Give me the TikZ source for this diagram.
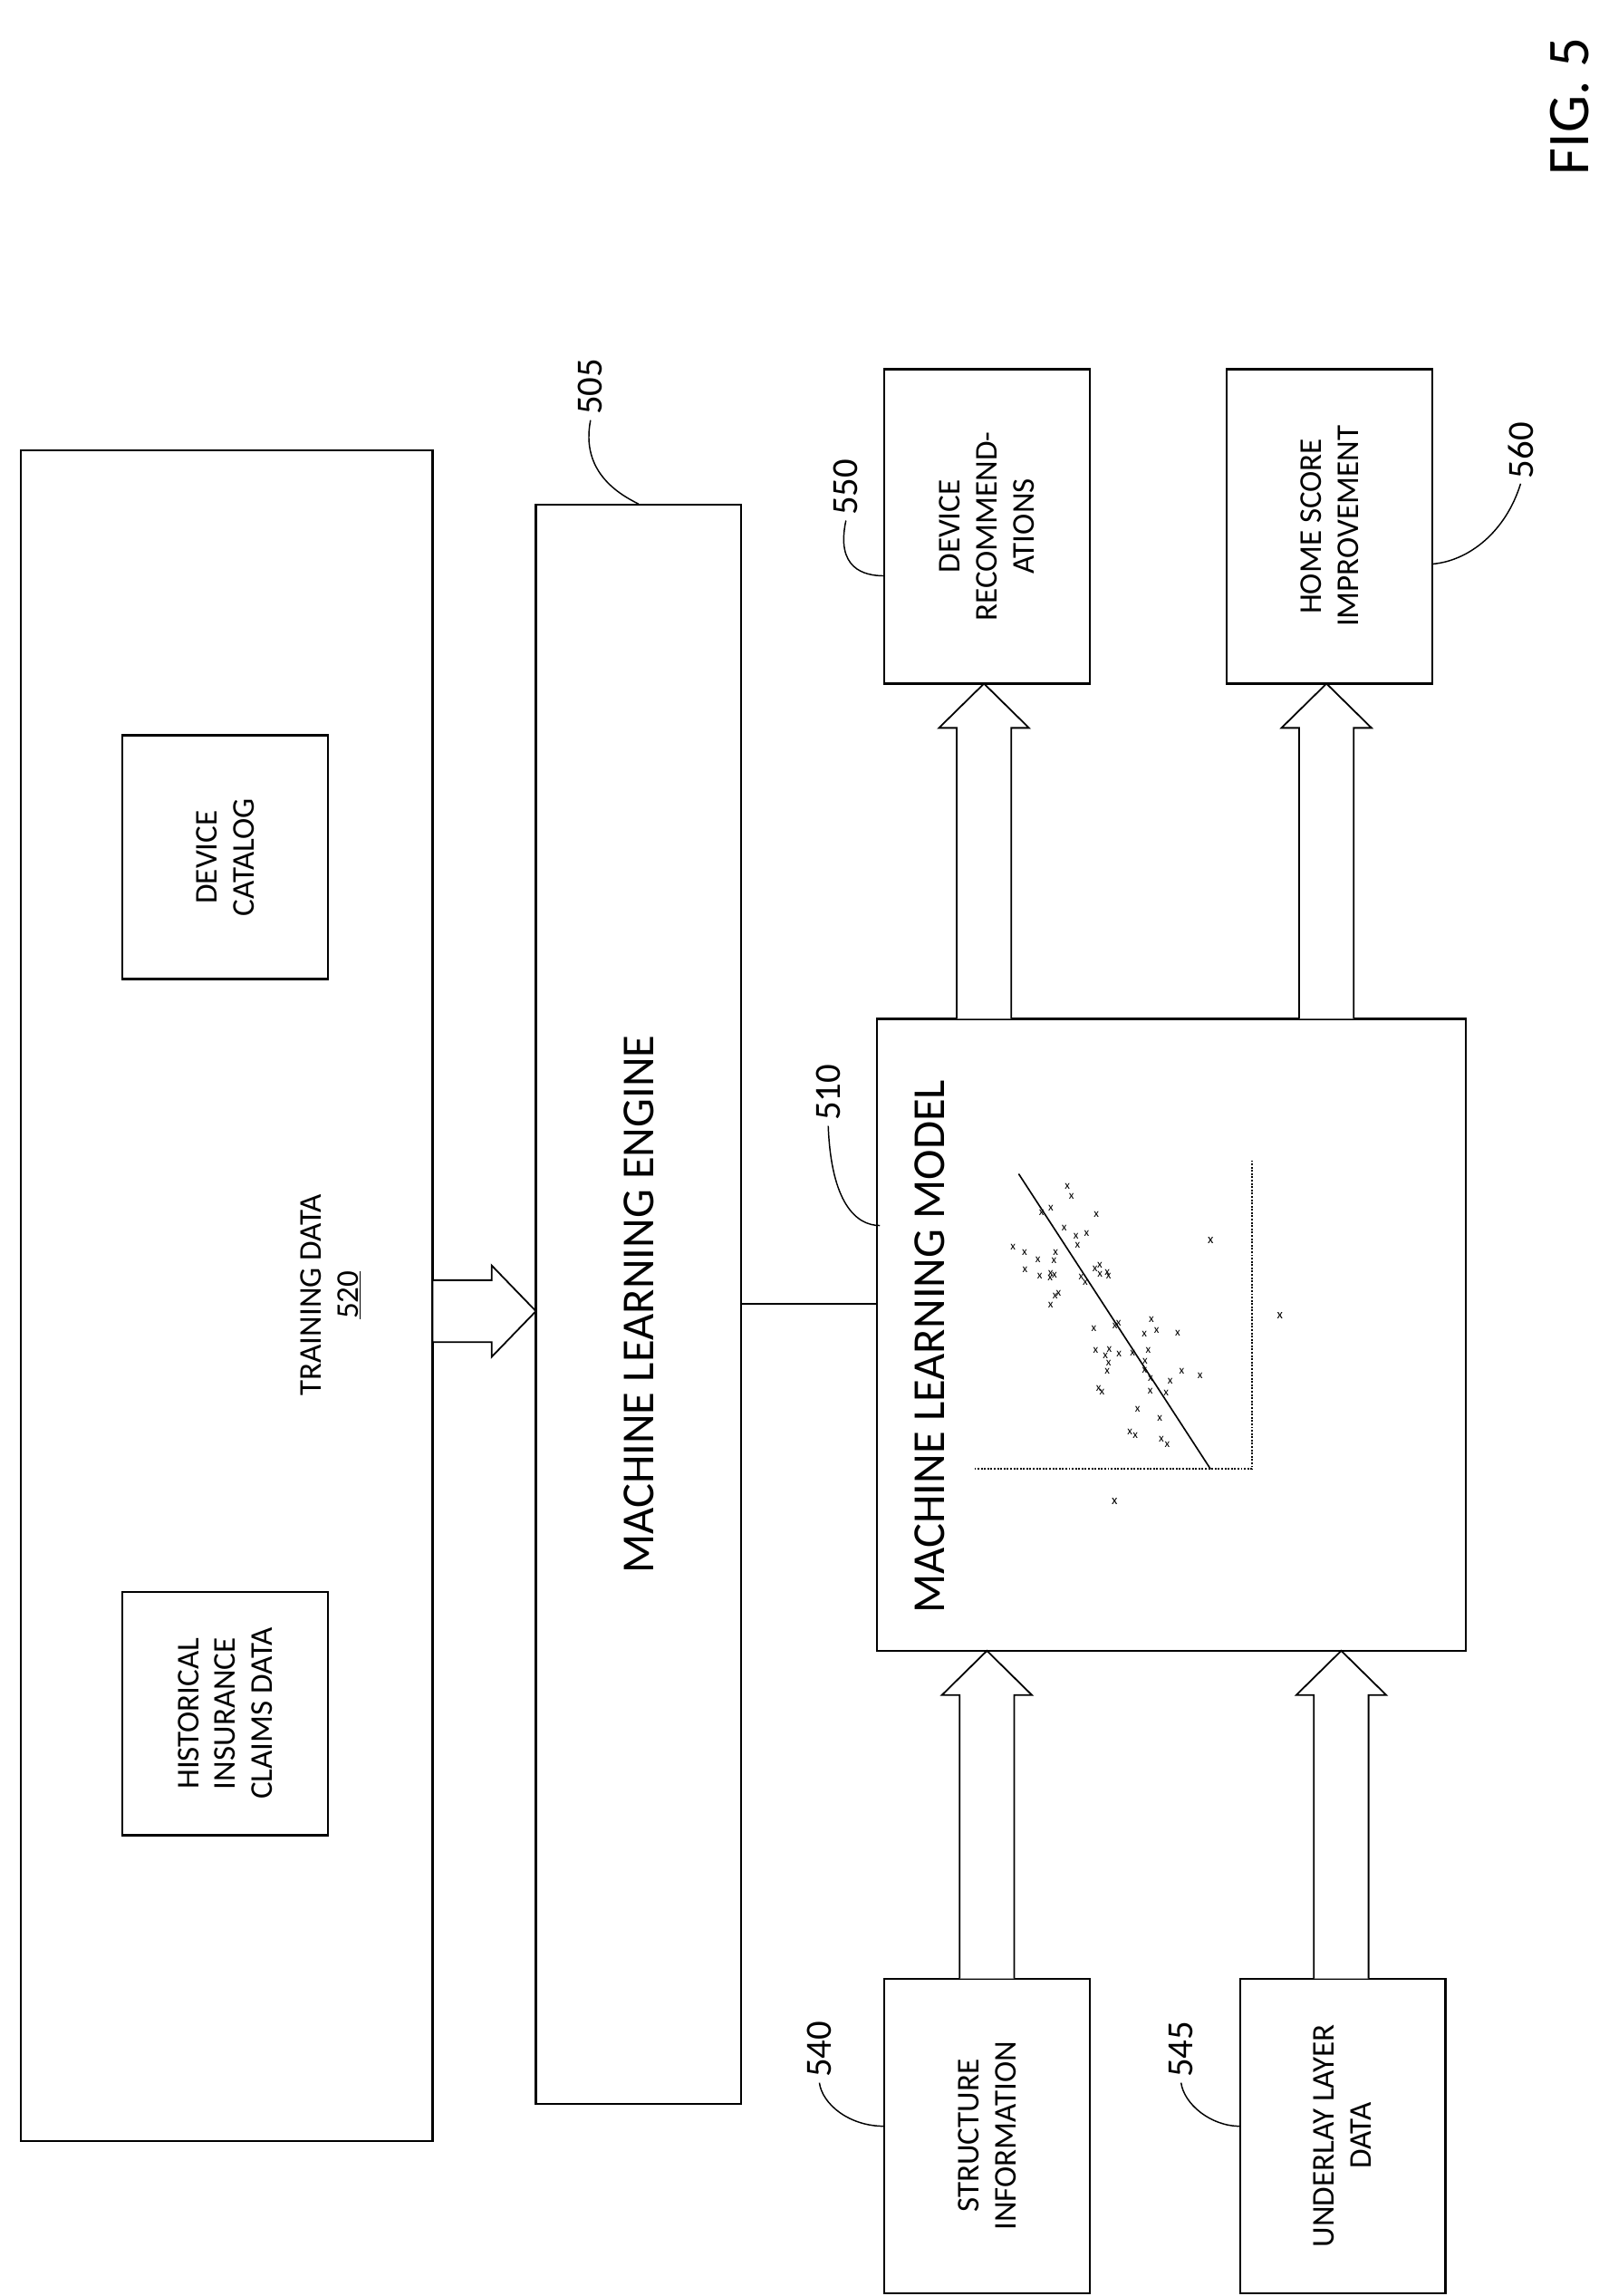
\documentclass[tikz,border=0pt]{standalone}
\usepackage{fontspec}
\setmainfont{Carlito}
\begin{document}
\begin{tikzpicture}[x=1pt,y=-1pt,
 box/.style={draw,line width=1.4pt,inner sep=0pt},
 lbl/.style={font=\fontsize{21.5}{25}\selectfont,align=center,rotate=90},
 num/.style={font=\fontsize{25}{28}\selectfont,rotate=90},
 lead/.style={line width=0.9pt},
 harrow/.style={draw,line width=1.1pt,fill=white}]
\useasboundingbox (0,0) rectangle (1083,1555);
% boxes
\node[box,minimum width=279pt,minimum height=1145pt] (train) at (153.5,877.5) {};
\node[lbl] (tdtext) at (224,877) {TRAINING DATA\\\underline{520}};
\node[box,minimum width=139pt,minimum height=165pt] (cat) at (152.5,580.5) {};
\node[lbl] at (cat) {DEVICE\\CATALOG};
\node[box,minimum width=139pt,minimum height=165pt] (hist) at (152.5,1160.5) {};
\node[lbl] at (hist) {HISTORICAL\\INSURANCE\\CLAIMS DATA};
\node[box,minimum width=139pt,minimum height=1083pt] (eng) at (432.5,883.5) {};
\node[lbl,font=\fontsize{31}{34}\selectfont] at (eng) {MACHINE LEARNING ENGINE};
\node[box,minimum width=399pt,minimum height=428pt] (model) at (793.5,904) {};
\node[lbl,font=\fontsize{31}{34}\selectfont] at (630,912) {MACHINE LEARNING MODEL};
\node[box,minimum width=139pt,minimum height=213pt] (rec) at (668.5,356.5) {};
\node[lbl] at (rec) {DEVICE\\RECOMMEND-\\ATIONS};
\node[box,minimum width=139pt,minimum height=213pt] (home) at (900.5,356.5) {};
\node[lbl] at (home) {HOME SCORE\\IMPROVEMENT};
\node[box,minimum width=139pt,minimum height=213pt] (str) at (668.5,1446.5) {};
\node[lbl] at (str) {STRUCTURE\\INFORMATION};
\node[box,minimum width=139pt,minimum height=213pt] (und) at (909.5,1446.5) {};
\node[lbl] at (und) {UNDERLAY LAYER\\DATA};
\node[font=\fontsize{40}{44}\selectfont,rotate=90] (fig) at (1063,72) {FIG. 5};
% numbers
\node[num] (n505) at (400,262) {505};
\node[num] (n550) at (573,330) {550};
\node[num] (n560) at (1030,305) {560};
\node[num] (n510) at (561,740) {510};
\node[num] (n540) at (555,1388) {540};
\node[num] (n545) at (800,1388) {545};
\draw[lead] (n505.west) .. controls (393,320) and (420,335) .. (eng.north);
\draw[lead] (n550.west) .. controls (566,385) and (585,390) .. (599,390);
\draw[lead] (n560.west) .. controls (1020,360) and (995,380) .. (970,382);
\draw[lead] (n510.west) .. controls (563,815) and (580,830) .. (596,830);
\draw[lead] (n540.west) .. controls (557,1425) and (575,1440) .. (599,1440);
\draw[lead] (n545.west) .. controls (802,1425) and (820,1440) .. (840,1440);
% connector engine-model
\draw[line width=1pt] (eng.east |- 0,883) -- (model.west |- 0,883);
% hollow arrows
\draw[harrow] (293,867)--(333,867)--(333,857)--(363,888)--(333,919)--(333,909)--(293,909)--cycle;
\foreach \a/\b/\ya/\yb in {648/685/690/463, 880/917/690/463, 650/687/1340/1118, 890/927/1340/1118}{
 \draw[harrow] (\a,\ya)--(\a,\yb+30)--(\a-12,\yb+30)--({(\a+\b)/2},\yb)--(\b+12,\yb+30)--(\b,\yb+30)--(\b,\ya);
}
% scatter plot
\draw[line width=1.2pt,densely dotted] (660,995)--(848,995)--(848,785);
\draw[line width=1pt] (690,795)--(820,995);
\pgfmathsetseed{11}
\foreach \i in {1,...,60}{
 \pgfmathsetmacro{\t}{0.1+0.8*rnd}
 \pgfmathsetmacro{\d}{(rnd-0.5)*70}
 \pgfmathsetmacro{\px}{690+130*\t+\d*0.84}
 \pgfmathsetmacro{\py}{795+200*\t-\d*0.55}
 \node[font=\fontsize{8}{8}\selectfont,inner sep=0pt] (p\i) at (\px,\py) {x};
}
\node[font=\fontsize{9}{9}\selectfont,inner sep=0pt] (q1) at (755,1017) {x};
\node[font=\fontsize{9}{9}\selectfont,inner sep=0pt] (q2) at (867,891) {x};
\node[font=\fontsize{9}{9}\selectfont,inner sep=0pt] (q3) at (820,840) {x};
\end{tikzpicture}
\end{document}
